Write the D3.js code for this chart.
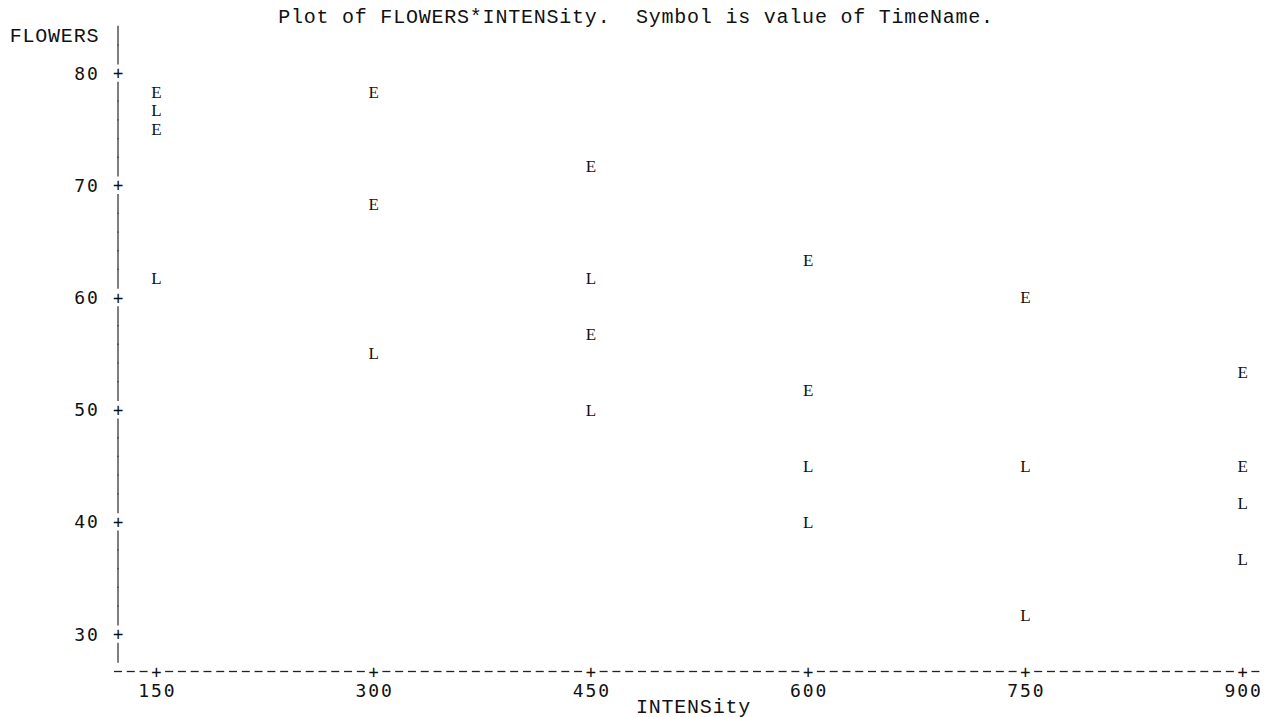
<!DOCTYPE html>
<html>
<head>
<meta charset="utf-8">
<script src="https://cdn.jsdelivr.net/npm/d3@7"></script>
<style>
  body { margin: 0; background: #fff; }
  text { fill: #111; white-space: pre; }
</style>
</head>
<body>
<div id="chart"></div>
<script>
// values
var intensity = [150, 150, 150, 150, 300, 300, 300, 450, 450, 450, 450,
                 600, 600, 600, 600, 750, 750, 750, 900, 900, 900, 900];
var flowers   = [78.3, 76.7, 75.0, 61.7, 78.3, 68.3, 55.0, 71.7, 61.7, 56.7, 50.0,
                 63.3, 51.7, 45.0, 40.0, 60.0, 45.0, 31.7, 53.3, 45.0, 41.7, 36.7];
var timeName  = ["E", "L", "E", "L", "E", "E", "L", "E", "L", "E", "L",
                 "E", "E", "L", "L", "E", "L", "L", "E", "E", "L", "L"];
var xTicks = [150, 300, 450, 600, 750, 900];
var yTicks = [30, 40, 50, 60, 70, 80];
var title = "Plot of FLOWERS*INTENSity.  Symbol is value of TimeName.";
var yLabel = "FLOWERS";
var xLabel = "INTENSity";

var w = 1274, h = 717;
var colW = 12.78, rowH = 18.7;
var x0 = 118, y0 = 17;   // centre of column 0 (the "|" bar) and of row 0 (title)
function col(c) { return x0 + c * colW; }
function row(r) { return y0 + r * rowH; }

var mono = "'Liberation Mono', 'Courier New', monospace";
var serif = "'Liberation Serif', 'DejaVu Serif', serif";   // slab-ish symbols, like Courier's E and L
var sans = "'DejaVu Sans Mono', monospace";

var svg = d3.select("#chart")
            .append("svg")
            .attr("width", w)
            .attr("height", h);

var xScale = d3.scaleLinear()
               .domain([150, 900])
               .range([col(3), col(88)]);

var yScale = d3.scaleLinear()
               .domain([30, 80])
               .range([row(33), row(3)]);

// text whose glyphs have their visual centre on y
function glyph(sel, font, size, dy) {
  return sel.attr("font-family", font)
            .attr("font-size", size)
            .attr("text-anchor", "middle")
            .attr("dy", dy);
}

// lay a string out on the character grid, one glyph per column (y in pixels)
function gridText(str, c, y, font, size, dy) {
  svg.append("g")
     .selectAll("text")
     .data(str.split(""))
     .enter()
     .append("text")
     .call(glyph, font, size, dy)
     .attr("x", function(d, i) { return col(c + i); })
     .attr("y", y)
     .text(function(d) { return d; });
}

// title
gridText(title, 13, row(0), mono, 20, 6);

// y label
gridText(yLabel, -8, row(1), mono, 20, 6);

// vertical axis: | segments on every row, + on the tick rows
var tickRows = yTicks.map(function(d) { return Math.round((yScale(d) - y0) / rowH); });
svg.selectAll("line.vbar")
   .data(d3.range(1, 35).filter(function(r) { return tickRows.indexOf(r) < 0; }))
   .enter()
   .append("line")
   .attr("class", "vbar")
   .attr("x1", col(0))
   .attr("x2", col(0))
   .attr("y1", function(r) { return row(r) - 10; })
   .attr("y2", function(r) { return row(r) + 10; })
   .attr("stroke", "#3a3a3a")
   .attr("stroke-width", 1.3);

svg.selectAll("text.vplus")
   .data(yTicks)
   .enter()
   .append("text")
   .attr("class", "vplus")
   .call(glyph, sans, 17, 6)
   .attr("x", col(0))
   .attr("y", function(d) { return yScale(d); })
   .text("+");

// y tick labels
yTicks.forEach(function(d) {
  var s = String(d);
  gridText(s, -1 - s.length, yScale(d), sans, 18, 6.5);
});

// horizontal axis: - on every column, + on the tick columns
var tickCols = xTicks.map(function(d) { return Math.round((xScale(d) - x0) / colW); });
svg.selectAll("line.hbar")
   .data(d3.range(0, 90).filter(function(c) { return tickCols.indexOf(c) < 0; }))
   .enter()
   .append("line")
   .attr("class", "hbar")
   .attr("x1", function(c) { return col(c) - 4; })
   .attr("x2", function(c) { return col(c) + 4; })
   .attr("y1", row(35))
   .attr("y2", row(35))
   .attr("stroke", "#222")
   .attr("stroke-width", 1.3);

svg.selectAll("text.hplus")
   .data(xTicks)
   .enter()
   .append("text")
   .attr("class", "hplus")
   .call(glyph, sans, 17, 6)
   .attr("x", function(d) { return xScale(d); })
   .attr("y", row(35))
   .text("+");

// x tick labels, centred on their tick
xTicks.forEach(function(d) {
  var s = String(d);
  var c = Math.round((xScale(d) - x0) / colW);
  gridText(s, c - Math.floor(s.length / 2), row(36), sans, 18, 6.5);
});

// x label
gridText(xLabel, 41, row(37) - 1.5, mono, 20, 6);

// plot symbols
svg.selectAll("text.pt")
   .data(d3.range(intensity.length))
   .enter()
   .append("text")
   .attr("class", "pt")
   .call(glyph, serif, 17, 5.8)
   .attr("x", function(i) { return xScale(intensity[i]); })
   .attr("y", function(i) { return yScale(flowers[i]); })
   .text(function(i) { return timeName[i]; });
</script>
</body>
</html>
